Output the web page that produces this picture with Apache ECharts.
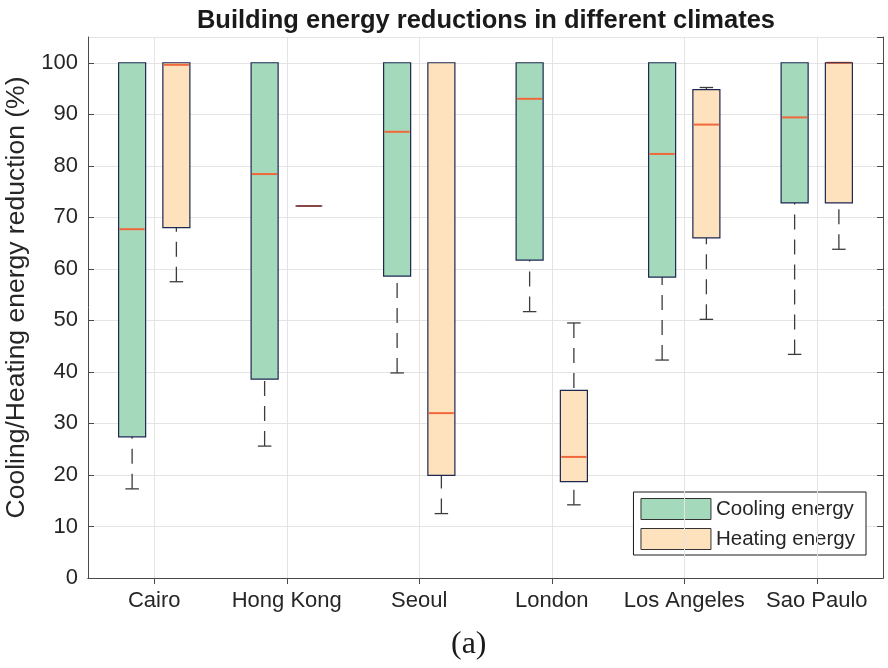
<!DOCTYPE html>
<html>
<head>
<meta charset="utf-8">
<script src="https://cdn.jsdelivr.net/npm/echarts@6/dist/echarts.min.js"></script>
<style>
  html, body { margin: 0; padding: 0; background: #ffffff; }
  #chart { width: 888px; height: 668px; }
</style>
</head>
<body>
<div id="chart"></div>
<script>
// Cities on the horizontal axis
const cities = ['Cairo', 'Hong Kong', 'Seoul', 'London', 'Los Angeles', 'Sao Paulo'];
const seriesNames = ['Cooling energy', 'Heating energy'];

// Box statistics per city: [lower whisker, Q1, median, Q3, upper whisker] in %
const coolingStats = [
  [17.3, 27.4, 67.7, 100, 100],
  [25.6, 38.6, 78.4, 100, 100],
  [39.8, 58.6, 86.6, 100, 100],
  [51.7, 61.7, 93.0, 100, 100],
  [42.3, 58.4, 82.3, 100, 100],
  [43.4, 72.8, 89.4, 100, 100]
];
const heatingStats = [
  [57.5, 68.0, 99.6, 100, 100],
  [72.2, 72.2, 72.2, 72.2, 72.2],
  [12.5, 19.9, 32.0, 100, 100],
  [14.2, 18.7, 23.5, 36.4, 49.5],
  [50.2, 66.0, 88.0, 94.8, 95.2],
  [63.8, 72.8, 100, 100, 100]
];

// Y axis range and tick step
const yMin = 0;
const yMax = 105;
const yStep = 10;

const COOL_FILL = '#a5d9bb';
const HEAT_FILL = '#fee2bd';
const BOX_EDGE = '#1d2752';
const MEDIAN = '#f0683a';
const WHISKER = '#3c3c3c';
const FRAME = '#4a4a4a';
const GRID = '#e4e4e4';
const TEXT = '#262626';

// Draws one MATLAB-style box (dashed whiskers, solid caps, median line)
function boxRenderer(side, fill) {
  return function (params, api) {
    const idx = api.value(0);
    const lo = api.value(1), q1 = api.value(2), med = api.value(3), q3 = api.value(4), hi = api.value(5);
    const band = api.size([1, 0])[0];
    const cx = api.coord([idx, 0])[0] + side * band * 0.167;
    const half = band * 0.102;
    const capHalf = half * 0.5;
    const y = v => api.coord([idx, v])[1];
    const top = y(q3), bot = y(q1);
    const children = [];

    children.push({
      type: 'rect',
      shape: { x: cx - half, y: top, width: half * 2, height: bot - top },
      style: { fill: fill, stroke: null }
    });

    function whisker(end, edge) {
      if (end === edge) return;
      const ye = y(end), yb = y(edge);
      children.push({
        type: 'line',
        shape: { x1: cx, y1: ye, x2: cx, y2: yb },
        style: { stroke: WHISKER, lineWidth: 1.3, lineDash: [15, 10], fill: null }
      });
      children.push({
        type: 'line',
        shape: { x1: cx - capHalf, y1: ye, x2: cx + capHalf, y2: ye },
        style: { stroke: WHISKER, lineWidth: 1.3, fill: null }
      });
    }
    whisker(lo, q1);
    whisker(hi, q3);

    children.push({
      type: 'line',
      shape: { x1: cx - half + 1, y1: y(med), x2: cx + half - 1, y2: y(med) },
      style: { stroke: MEDIAN, lineWidth: 2, fill: null }
    });

    children.push({
      type: 'rect',
      shape: { x: cx - half, y: top, width: half * 2, height: bot - top },
      style: { fill: null, stroke: BOX_EDGE, lineWidth: 1.2 }
    });

    return { type: 'group', children: children };
  };
}

function rows(stats) {
  return stats.map((s, i) => [i].concat(s));
}

const chart = echarts.init(document.getElementById('chart'), null, { renderer: 'canvas' });

const labelFont = { fontFamily: 'Liberation Sans, Arial, sans-serif', color: TEXT };

chart.setOption({
  animation: false,
  backgroundColor: '#ffffff',
  title: {
    text: 'Building energy reductions in different climates',
    left: 481,
    top: 3,
    textAlign: 'center',
    textStyle: { fontFamily: 'Liberation Sans, Arial, sans-serif', fontWeight: 'bold', fontSize: 25.5, color: '#1a1a1a' }
  },
  grid: { left: 88, right: 5, top: 37, bottom: 90, containLabel: false, outerBoundsMode: 'none' },
  legend: {
    orient: 'vertical',
    right: 22,
    bottom: 113,
    padding: [6, 11, 5, 7],
    itemGap: 8,
    itemWidth: 70,
    itemHeight: 21,
    borderColor: '#1a1a1a',
    borderWidth: 1,
    backgroundColor: '#ffffff',
    textStyle: { fontFamily: 'Liberation Sans, Arial, sans-serif', fontSize: 20.5, color: TEXT },
    data: [
      { name: seriesNames[0], icon: 'rect', itemStyle: { color: COOL_FILL, borderColor: '#333333', borderWidth: 1 } },
      { name: seriesNames[1], icon: 'rect', itemStyle: { color: HEAT_FILL, borderColor: '#333333', borderWidth: 1 } }
    ]
  },
  xAxis: [
    {
      type: 'category',
      data: cities,
      position: 'bottom',
      axisLine: { show: true, lineStyle: { color: FRAME, width: 1 } },
      axisTick: { show: true, inside: true, alignWithLabel: true, interval: 0, length: 6, lineStyle: { color: FRAME } },
      axisLabel: { interval: 0, margin: 12, fontSize: 22, ...labelFont },
      splitLine: { show: false }
    },
    {
      type: 'category',
      data: cities,
      position: 'top',
      axisLine: { show: true, lineStyle: { color: FRAME, width: 1 } },
      axisTick: { show: true, inside: true, alignWithLabel: true, interval: 0, length: 6, lineStyle: { color: FRAME } },
      axisLabel: { show: false },
      splitLine: { show: false }
    }
  ],
  yAxis: [
    {
      type: 'value',
      min: yMin,
      max: yMax,
      interval: yStep,
      position: 'left',
      name: 'Cooling/Heating energy reduction (%)',
      nameLocation: 'middle',
      nameGap: 54,
      nameTextStyle: { fontSize: 26.5, padding: [0, 0, 0, 20], ...labelFont },
      axisLine: { show: true, lineStyle: { color: FRAME, width: 1 } },
      axisTick: { show: true, inside: true, length: 6, lineStyle: { color: FRAME } },
      axisLabel: { margin: 10, fontSize: 22, showMaxLabel: false, ...labelFont,
        formatter: v => (v > 100 ? '' : String(v)) },
      splitLine: { show: true, lineStyle: { color: GRID, width: 1 } }
    },
    {
      type: 'value',
      min: yMin,
      max: yMax,
      interval: yStep,
      position: 'right',
      axisLine: { show: true, lineStyle: { color: FRAME, width: 1 } },
      axisTick: { show: true, inside: true, length: 6, lineStyle: { color: FRAME } },
      axisLabel: { show: false },
      splitLine: { show: false }
    }
  ],
  graphic: [
    {
      type: 'text',
      left: 451,
      top: 629,
      style: { text: '(a)', font: '32px "Liberation Serif", "Times New Roman", serif', fill: '#1a1a1a' }
    }
  ],
  series: [
    {
      name: seriesNames[0],
      type: 'custom',
      xAxisIndex: 0,
      yAxisIndex: 0,
      itemStyle: { color: COOL_FILL },
      renderItem: boxRenderer(-1, COOL_FILL),
      encode: { x: 0, y: [1, 2, 3, 4, 5] },
      data: rows(coolingStats),
      markLine: {
        silent: true,
        symbol: 'none',
        label: { show: false },
        lineStyle: { color: GRID, width: 1, type: 'solid' },
        data: cities.map(c => ({ xAxis: c }))
      },
      z: 3
    },
    {
      name: seriesNames[1],
      type: 'custom',
      xAxisIndex: 0,
      yAxisIndex: 0,
      itemStyle: { color: HEAT_FILL },
      renderItem: boxRenderer(1, HEAT_FILL),
      encode: { x: 0, y: [1, 2, 3, 4, 5] },
      data: rows(heatingStats),
      z: 3
    }
  ]
});
</script>
</body>
</html>
